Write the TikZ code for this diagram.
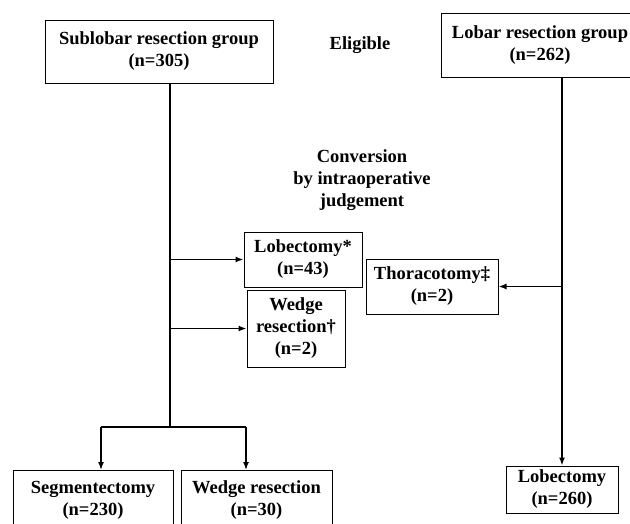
\documentclass[tikz,border=0pt]{standalone}
\usepackage{fontspec}
\setmainfont{Liberation Serif}
\usetikzlibrary{arrows.meta}
\tikzset{
	box/.style={draw, line width=1pt, align=center, inner sep=0pt, font=\bfseries\fontsize{18.5}{22}\selectfont},
	label/.style={align=center, inner sep=0pt, font=\bfseries\fontsize{18.5}{22}\selectfont},
	link/.style={line width=1.5pt, -{Latex[length=8pt,width=6pt]}},
	trunk/.style={line width=1.5pt}
}
\begin{document}
\begin{tikzpicture}[x=1pt,y=-1pt]
				\useasboundingbox (0,0) rectangle (630,523);
				
				\node[box, minimum width=228pt, minimum height=63pt] (sublobar) at (159,51.5) {Sublobar resection group\\(n=305)};
				\node[box, minimum width=198pt, minimum height=64pt] (lobar) at (540,45) {Lobar resection group\\(n=262)};
				\node[label] (eligible) at (360,45) {Eligible};
				\node[label] (conversion) at (362,180) {Conversion\\by intraoperative\\judgement};
				
				\node[box, minimum width=118pt, minimum height=55pt] (lobconv) at (303,259.5) {Lobectomy*\\(n=43)};
				\node[box, minimum width=98pt, minimum height=77pt] (wedgeconv) at (296,328.5) {Wedge\\resection†\\(n=2)};
				\node[box, minimum width=132pt, minimum height=55pt] (thoraco) at (432,286.5) {Thoracotomy‡\\(n=2)};
				
				\node[box, minimum width=160pt, minimum height=60pt] (segment) at (93,500.5) {Segmentectomy\\(n=230)};
				\node[box, minimum width=151pt, minimum height=60pt] (wedge) at (256.5,500.5) {Wedge resection\\(n=30)};
				\node[box, minimum width=112pt, minimum height=47pt] (lobectomy) at (562,489.5) {Lobectomy\\(n=260)};
				
				\coordinate (split) at (170,427);
				\coordinate (segtop) at (101,427);
				\coordinate (wedtop) at (246,427);
				\coordinate (lobtrunk) at (562,77);
				
				\draw[trunk] (sublobar.south -| split) -- (split);
				\draw[trunk] (segtop) -- (wedtop);
				\draw[link] (segtop) -- (segtop |- segment.north);
				\draw[link] (wedtop) -- (wedtop |- wedge.north);
				
				\draw[link] (lobconv.west -| split) -- (lobconv.west);
				\draw[link] (wedgeconv.west -| split) -- (wedgeconv.west);
				
				\draw[link] (lobtrunk) -- (lobectomy.north);
				\draw[link] (thoraco.east -| lobtrunk) -- (thoraco.east);
\end{tikzpicture}
\end{document}
